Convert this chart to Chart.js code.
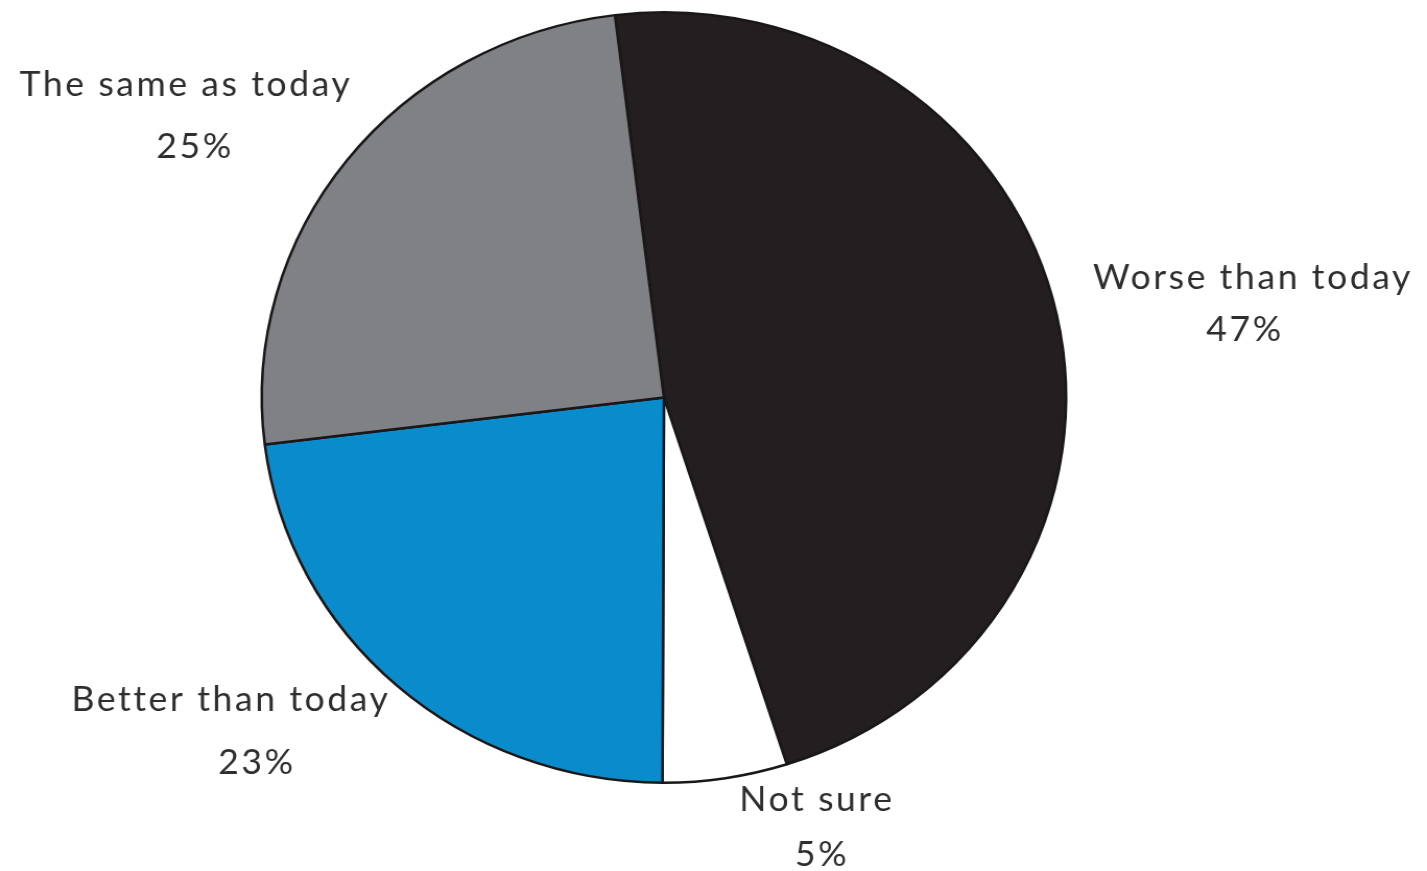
<!DOCTYPE html>
<html lang="en">
<head>
    <meta charset="UTF-8">
    <title>Outlook compared with today</title>
    <style>
        html, body { margin: 0; padding: 0; background: #ffffff; overflow: hidden; }
        /* the pie is a touch wider than tall, so the canvas is stretched sideways */
        .chart-container {
            width: 1367px;
            height: 871px;
            transform: scaleX(1.0439);
            transform-origin: 0 0;
        }
    </style>
</head>
<body>
    <div class="chart-container">
        <canvas id="outlookChart"></canvas>
    </div>
    <script src="https://cdn.jsdelivr.net/npm/chart.js"></script>
    <script>
        const categories = ['Worse than today', 'Not sure', 'Better than today', 'The same as today'];
        const shares = [47, 5, 23, 25];
        const sliceColors = ['#231f20', '#ffffff', '#0a8bcb', '#808184'];

        // label centres in page pixels (before the sideways stretch)
        const labelSpots = [
            [1253, 278, 1245, 330],
            [817, 800, 822, 855],
            [231, 700, 257, 763],
            [186, 85, 195, 147]
        ];
        const STRETCH = 1.0439;

        const outsideLabels = {
            id: 'outsideLabels',
            afterDraw(chart) {
                const ctx = chart.ctx;
                ctx.save();
                ctx.fillStyle = '#2e2e2e';
                ctx.font = '34px Lato, "Open Sans", sans-serif';
                ctx.letterSpacing = '2.5px';
                ctx.textAlign = 'center';
                ctx.textBaseline = 'middle';
                chart.data.labels.forEach((name, i) => {
                    const p = labelSpots[i];
                    const value = chart.data.datasets[0].data[i];
                    ctx.fillText(name, p[0] / STRETCH, p[1]);
                    ctx.fillText(value + '%', p[2] / STRETCH, p[3]);
                });
                ctx.restore();
            }
        };

        const ctx = document.getElementById('outlookChart').getContext('2d');
        new Chart(ctx, {
            type: 'pie',
            data: {
                labels: categories,
                datasets: [{
                    data: shares,
                    backgroundColor: sliceColors,
                    borderColor: '#1a1718',
                    borderWidth: 2.5
                }]
            },
            options: {
                responsive: true,
                maintainAspectRatio: false,
                animation: false,
                rotation: -7,
                layout: {
                    padding: { top: 11, bottom: 87, left: 0, right: 95 }
                },
                plugins: {
                    legend: { display: false },
                    tooltip: { enabled: false }
                }
            },
            plugins: [outsideLabels]
        });
    </script>
</body>
</html>
